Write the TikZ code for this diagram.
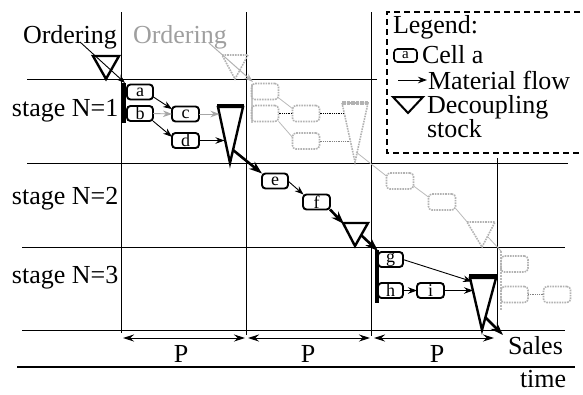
\documentclass[tikz,border=0pt]{standalone}
\usepackage{fontspec}
\setmainfont{Liberation Serif}
\usetikzlibrary{arrows.meta}
\begin{document}
\begin{tikzpicture}[x=1pt,y=-1pt,
  every node/.style={inner sep=0pt, outer sep=0pt},
  txt/.style={font=\fontsize{26}{26}\selectfont, anchor=base west},
  grid/.style={line width=0.9pt},
  cell/.style={draw, rounded corners=3.5pt, line width=1.9pt, minimum width=26pt, minimum height=15pt, font=\fontsize{18}{18}\selectfont},
  ghostcell/.style={draw=gray!60, densely dotted, rounded corners=3.5pt, line width=1.6pt, minimum width=27pt, minimum height=16pt},
  tri/.style={line width=2.4pt, line join=miter},
  ghosttri/.style={draw=gray!60, densely dotted, line width=1.6pt},
  bar/.style={line width=3.2pt},
  topbar/.style={line width=4pt},
  thinarrow/.style={line width=0.9pt, -{Stealth[length=9pt,width=6.5pt]}},
  thickarrow/.style={line width=2.6pt, -{Stealth[length=13pt,width=9pt]}},
  ghostline/.style={draw=gray!55, line width=0.8pt},
  parrow/.style={line width=1pt, {Stealth[length=11pt,width=7pt]}-{Stealth[length=11pt,width=7pt]}}
]
\useasboundingbox (0,0) rectangle (583,394);

% grid
\draw[grid] (27,79) -- (377,79);
\draw[grid] (27,163) -- (568,163);
\draw[grid] (22,247) -- (565,247);
\draw[grid] (22,330) -- (565,330);
\draw[line width=1.3pt] (17,367) -- (575,367);
\draw[grid] (121,12) -- (121,333);
\draw[grid] (246,12) -- (246,335);
\draw[grid] (371,12) -- (371,336);
\draw[grid] (497,158) -- (497,330);

% legend
\draw[line width=1.8pt, dash pattern=on 6pt off 4pt] (590,12) -- (387,12) -- (387,153) -- (590,153);
\node[txt] (lg) at (393,33) {Legend:};
\node[cell, minimum width=23pt, minimum height=13pt, line width=1.6pt, font=\fontsize{15}{15}\selectfont] (lcell) at (405.5,55.5) {a};
\node[txt] (lcelltxt) at (422,63) {Cell a};
\coordinate (la1) at (398,80);
\coordinate (la2) at (427,80);
\draw[thinarrow] (la1) -- (la2);
\node[txt] (lflow) at (428,89) {Material flow};
\draw[line width=2pt] (393,97) -- (423,97) -- (408,113) -- cycle;
\node[txt] (ldec) at (427,113) {Decoupling};
\node[txt] (lstock) at (427,137) {stock};

% labels
\node[txt] (ord) at (23,43) {Ordering};
\node[txt, text=gray!75] (gord) at (133,43) {Ordering};
\node[txt] (s1) at (12,116) {stage N=1};
\node[txt] (s2) at (12,204) {stage N=2};
\node[txt] (s3) at (12,283) {stage N=3};
\node[txt] (sales) at (508,354) {Sales};
\node[txt] (time) at (520,387) {time};
\node[txt, anchor=base] (p1) at (181,362) {P};
\node[txt, anchor=base] (p2) at (308,362) {P};
\node[txt, anchor=base] (p3) at (437,362) {P};

% period arrows
\coordinate (pa1) at (123,338); \coordinate (pb1) at (245,338);
\coordinate (pa2) at (248,338); \coordinate (pb2) at (370,338);
\coordinate (pa3) at (374,338); \coordinate (pb3) at (494,338);
\draw[parrow] (pa1) -- (pb1);
\draw[parrow] (pa2) -- (pb2);
\draw[parrow] (pa3) -- (pb3);

% ===== ghost (gray) chain =====
\coordinate (gordst) at (209,43);
\coordinate (gbar1top) at (253,82);
\draw[ghosttri] (222,55) -- (248,55) -- (235,79) -- cycle;
\draw[draw=gray!60, line width=1pt, -{Stealth[length=9pt,width=6pt]}] (gordst) -- (gbar1top);
\draw[draw=gray!45, line width=2.2pt] (252,84) -- (252,123);
\node[ghostcell] (ga) at (265,91.5) {};
\node[ghostcell] (gb) at (265,113.5) {};
\node[ghostcell] (gc) at (306,113.5) {};
\node[ghostcell] (gd) at (306,141) {};
\draw[ghostline] (ga.-25) -- (gc.160);
\draw[densely dotted, line width=0.8pt] (gb.east) -- (gc.west);
\draw[ghostline] (gb.-30) -- (gd.165);
\draw[ghosttri] (342,103) -- (368,103) -- (355,162) -- cycle;
\draw[draw=gray!60, densely dotted, line width=3.5pt] (342,103) -- (368,103);
\coordinate (gt1c) at (343.5,113.5);
\coordinate (gt1d) at (349.5,141);
\draw[densely dotted, line width=0.8pt] (gc.east) -- (gt1c);
\draw[densely dotted, line width=0.8pt, draw=gray] (gd.east) -- (gt1d);
\node[ghostcell] (ge) at (400,181) {};
\node[ghostcell] (gf) at (442,202) {};
\coordinate (gt1out) at (356,152);
\draw[ghostline] (gt1out) -- (ge.160);
\draw[ghostline] (ge.-20) -- (gf.160);
\draw[ghosttri] (467,222) -- (495,222) -- (482,247) -- cycle;
\coordinate (gt2in) at (468,223);
\draw[ghostline] (gf.-25) -- (gt2in);
\coordinate (gt2out) at (488,237);
\coordinate (gbar3top) at (501,251);
\draw[ghostline] (gt2out) -- (gbar3top);
\draw[draw=gray!55, densely dotted, line width=2pt] (501,251) -- (501,310);
\node[ghostcell] (gg) at (514.5,264) {};
\node[ghostcell] (gh) at (514.5,294.5) {};
\node[ghostcell] (gi) at (557,294.5) {};
\draw[densely dotted, line width=0.8pt, draw=gray] (gh.east) -- (gi.west);

% ===== black chain =====
% stage 1
\draw[tri] (93,56) -- (119,56) -- (106,79) -- cycle;
\coordinate (ordst) at (80,42);
\coordinate (bar1top) at (125,83);
\draw[thinarrow] (ordst) -- (bar1top);
\draw[bar] (124,83) -- (124,123);
\node[cell] (a) at (140,92) {a};
\node[cell] (b) at (140,113.5) {b};
\node[cell, minimum width=27pt] (c) at (185.5,114) {c};
\node[cell, minimum width=27pt] (d) at (185.5,140.5) {d};
\draw[thinarrow] (a.-20) -- (c.160);
\draw[thinarrow, draw=gray!70] (b.east) -- (c.west);
\draw[thinarrow] (b.-30) -- (d.165);
\draw[tri] (218,107) -- (243,107) -- (230,163) -- cycle;
\draw[topbar] (217,105.5) -- (244,105.5);
\coordinate (t1c) at (219.5,114);
\coordinate (t1d) at (224.5,140.5);
\draw[thinarrow, draw=gray!70] (c.east) -- (t1c);
\draw[thinarrow] (d.east) -- (t1d);
\coordinate (t1out) at (233,150);

% stage 2
\node[cell] (e) at (275,181) {e};
\node[cell, minimum width=27pt] (f) at (316.5,202) {f};
\draw[thickarrow] (t1out) -- (e.north west);
\draw[thinarrow] (e.east) -- (f.150);
\draw[tri] (343,223) -- (368,223) -- (355,246) -- cycle;
\coordinate (t2in) at (344,224);
\draw[thickarrow] (f.south east) -- (t2in);
\coordinate (t2out) at (361,235);
\coordinate (bar3top) at (378,251);
\draw[thickarrow] (t2out) -- (bar3top);

% stage 3
\draw[bar] (377,250) -- (377,303);
\node[cell, minimum width=25pt] (g) at (390.5,259.5) {g};
\node[cell, minimum width=25pt] (h) at (390.5,290.5) {h};
\node[cell, minimum width=27pt] (i) at (430.5,290.5) {i};
\draw[tri] (470,278) -- (496,278) -- (482,330) -- cycle;
\draw[topbar] (469,276) -- (497,276);
\coordinate (t3g) at (472,281.5);
\coordinate (t3i) at (473,290.5);
\draw[thinarrow] (g.east) -- (t3g);
\draw[thinarrow] (h.east) -- (i.west);
\draw[thinarrow] (i.east) -- (t3i);
\coordinate (t3out) at (485,317);
\coordinate (salesin) at (503,335);
\draw[thickarrow] (t3out) -- (salesin);
\end{tikzpicture}
\end{document}
